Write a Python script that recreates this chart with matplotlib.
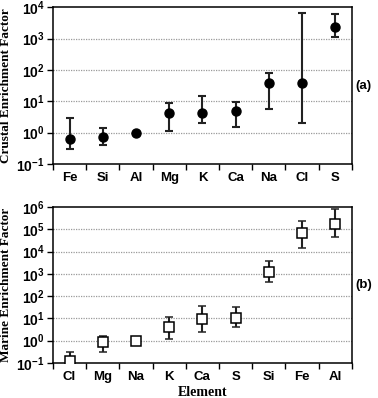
import matplotlib
matplotlib.use('Agg')
import matplotlib.pyplot as plt
from matplotlib.ticker import FixedLocator, FuncFormatter
import numpy as np

# Crustal enrichment factor (a)
crust_elements = ['Fe', 'Si', 'Al', 'Mg', 'K', 'Ca', 'Na', 'Cl', 'S']
crust_ef = [0.63, 0.71, 1.0, 4.2, 4.3, 4.9, 37, 37, 2300]
crust_lo = [0.31, 0.41, 1.0, 1.1, 2.1, 1.5, 5.5, 2.0, 1120]
crust_hi = [2.9, 1.45, 1.0, 8.5, 15, 9.7, 78, 6500, 5900]

# Marine enrichment factor (b)
marine_elements = ['Cl', 'Mg', 'Na', 'K', 'Ca', 'S', 'Si', 'Fe', 'Al']
marine_ef = [0.125, 0.9, 1.0, 4.0, 9.5, 10.7, 1230, 66000, 175000]
marine_lo = [0.05, 0.3, 1.0, 1.25, 2.5, 4.1, 450, 15000, 47000]
marine_hi = [0.32, 1.7, 1.0, 11, 37, 31, 3800, 245000, 810000]

plt.rcParams['mathtext.fontset'] = 'custom'
plt.rcParams['mathtext.bf'] = 'Liberation Sans:bold'
plt.rcParams['mathtext.rm'] = 'Liberation Sans:bold'

SANS = 'Liberation Sans'
SERIF = 'Liberation Serif'


def pow_fmt(v, pos):
    e = int(round(np.log10(v)))
    return r'$\mathbf{10^{%d}}$' % e


def setup(ax, elements, ylim, ylabel, tag):
    n = len(elements)
    x = np.arange(n)
    ax.set_xlim(-0.5, n - 0.5)
    ax.set_yscale('log')
    ax.set_ylim(*ylim)
    lo_e, hi_e = int(np.log10(ylim[0])), int(np.log10(ylim[1]))
    ax.yaxis.set_major_locator(FixedLocator([10.0 ** e for e in range(lo_e, hi_e + 1)]))
    ax.yaxis.set_minor_locator(FixedLocator([]))
    ax.yaxis.set_major_formatter(FuncFormatter(pow_fmt))
    for e in range(lo_e + 1, hi_e):
        ax.axhline(10.0 ** e, color='#9a9a9a', lw=0.9, ls=(0, (1, 1)), zorder=0)
    ax.xaxis.set_major_locator(FixedLocator(np.arange(-0.5, n, 1.0)))
    ax.xaxis.set_major_formatter(FuncFormatter(lambda v, p: ''))
    ax.xaxis.set_minor_locator(FixedLocator(x))
    ax.set_xticklabels(elements, minor=True)
    ax.tick_params(axis='x', which='major', direction='out', length=4, width=1)
    ax.tick_params(axis='x', which='minor', length=0, pad=6)
    ax.tick_params(axis='y', which='major', direction='out', length=4, width=1, pad=2)
    for lab in ax.get_xticklabels(minor=True):
        lab.set_fontfamily(SANS)
        lab.set_fontweight('bold')
        lab.set_fontsize(9.5)
    for lab in ax.get_yticklabels():
        lab.set_fontsize(10)
    for s in ax.spines.values():
        s.set_linewidth(1.1)
    ax.set_ylabel(ylabel, family=SERIF, fontweight='bold', fontsize=9.5, labelpad=3)
    ax.text(1.012, 0.5, tag, transform=ax.transAxes, family=SANS,
            fontweight='bold', fontsize=9.5, va='center', ha='left')
    return x


fig = plt.figure(figsize=(3.78, 3.98), dpi=100)
ax1 = fig.add_axes([0.140, 0.588, 0.791, 0.394])
ax2 = fig.add_axes([0.140, 0.088, 0.791, 0.392])

x1 = setup(ax1, crust_elements, (0.1, 1e4), 'Crustal Enrichment Factor', '(a)')
y1 = np.array(crust_ef)
err1 = [y1 - np.array(crust_lo), np.array(crust_hi) - y1]
ax1.errorbar(x1, y1, yerr=err1, fmt='o', color='black', ms=6.5, ecolor='#222222',
             elinewidth=1.5, capsize=3, capthick=1.5, zorder=3)

x2 = setup(ax2, marine_elements, (0.1, 1e6), 'Marine Enrichment Factor', '(b)')
y2 = np.array(marine_ef)
err2 = [y2 - np.array(marine_lo), np.array(marine_hi) - y2]
ax2.errorbar(x2, y2, yerr=err2, fmt='s', color='black', mfc='white', mec='black',
             mew=1.1, ms=7, ecolor='#222222', elinewidth=1.5, capsize=3,
             capthick=1.5, zorder=3)
ax2.set_xlabel('Element', family=SERIF, fontweight='bold', fontsize=10, labelpad=2)

fig.savefig('out.png', dpi=100)
